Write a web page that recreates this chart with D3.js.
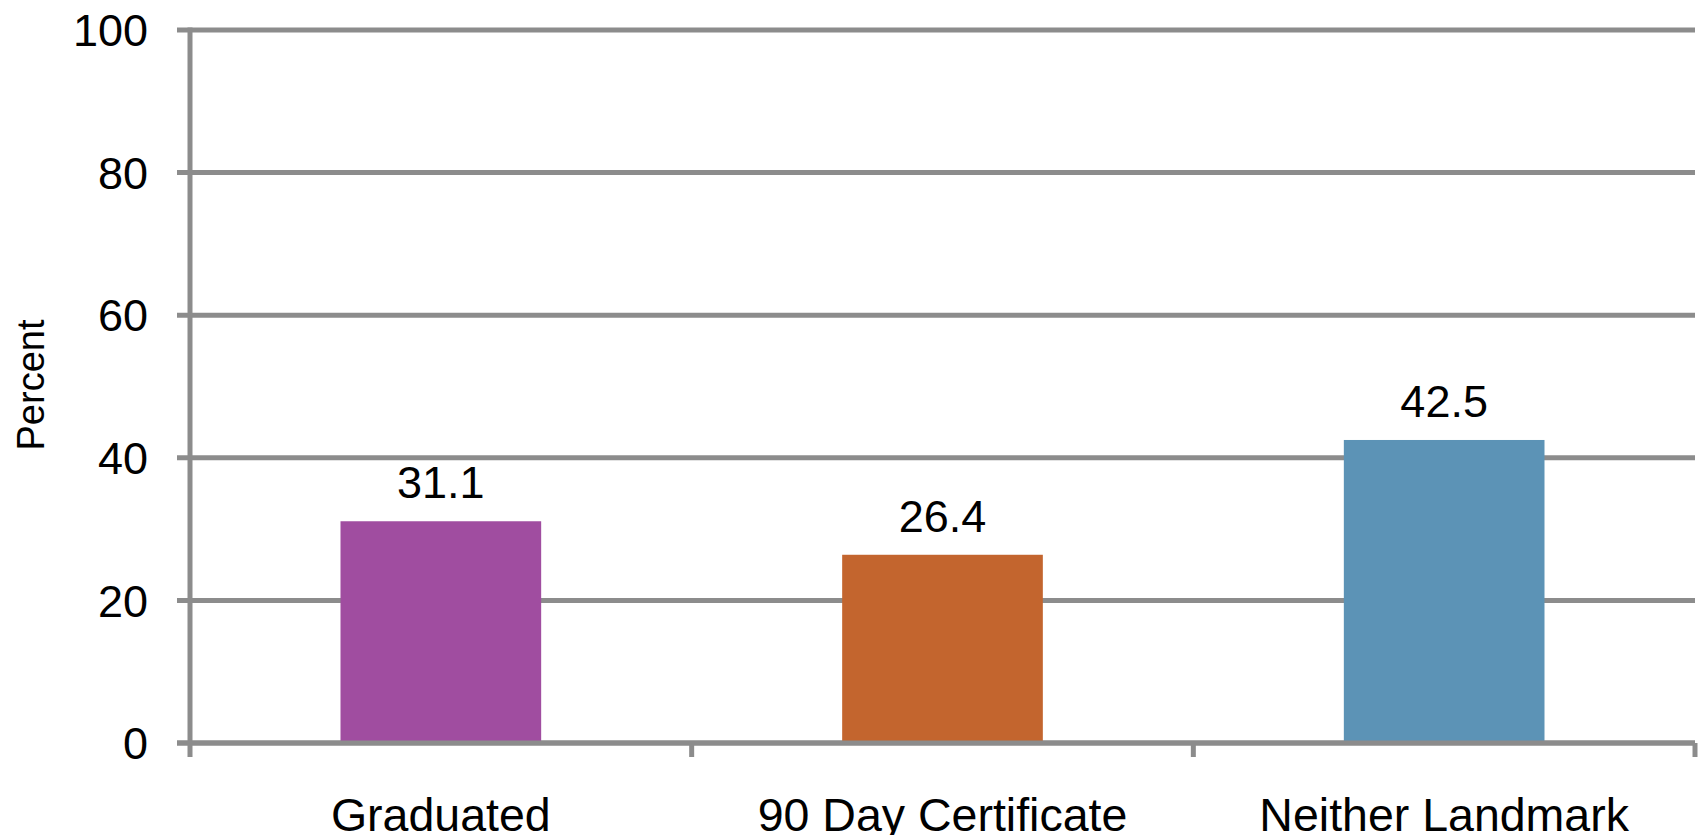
<!DOCTYPE html>
<html>
<head>
<meta charset="utf-8">
<script src="https://cdn.jsdelivr.net/npm/d3@7"></script>
<style>
  html, body { margin: 0; padding: 0; background: #fff; }
  svg { display: block; }
  text { font-family: "Liberation Sans", Arial, sans-serif; fill: #000; }
</style>
</head>
<body>
<svg id="chart" width="1702" height="835"></svg>
<script>
// Outcome categories and their share (percent)
const categories = ["Graduated", "90 Day Certificate", "Neither Landmark"];
const values = [31.1, 26.4, 42.5];
const barColors = ["#A04DA0", "#C3652E", "#5C93B6"];
const yTicks = [0, 20, 40, 60, 80, 100];
const yLabel = "Percent";

const svg = d3.select("#chart");
const plot = { left: 190, right: 1695, top: 30, bottom: 743 };
const gridColor = "#8C8C8C";
const lineW = 5;

const x = d3.scaleBand().domain(categories).range([plot.left, plot.right]).paddingInner(0).paddingOuter(0);
const y = d3.scaleLinear().domain([0, 100]).range([plot.bottom, plot.top]);
const barW = x.bandwidth() * 0.4;

// horizontal gridlines with short left ticks
svg.append("g").selectAll("line").data(yTicks).join("line")
  .attr("x1", plot.left - 13).attr("x2", plot.right)
  .attr("y1", d => y(d)).attr("y2", d => y(d))
  .attr("stroke", gridColor).attr("stroke-width", lineW);

// y-axis tick labels
svg.append("g").selectAll("text").data(yTicks).join("text")
  .attr("x", 148).attr("y", d => y(d)).attr("dy", "0.36em")
  .attr("text-anchor", "end").style("font-size", "45px")
  .text(d => d);

// bars
svg.append("g").selectAll("rect").data(categories).join("rect")
  .attr("x", d => x(d) + (x.bandwidth() - barW) / 2)
  .attr("width", barW)
  .attr("y", (d, i) => y(values[i]))
  .attr("height", (d, i) => y(0) - y(values[i]))
  .attr("fill", (d, i) => barColors[i]);

// baseline on top of the bars
svg.append("line")
  .attr("x1", plot.left - 13).attr("x2", plot.right)
  .attr("y1", y(0)).attr("y2", y(0))
  .attr("stroke", gridColor).attr("stroke-width", lineW);

// vertical axis
svg.append("line")
  .attr("x1", plot.left).attr("x2", plot.left)
  .attr("y1", y(100) - lineW / 2).attr("y2", y(0) + 14)
  .attr("stroke", gridColor).attr("stroke-width", lineW);

// category boundary ticks below the baseline
const bounds = categories.map(c => x(c)).concat([plot.right]).slice(1);
svg.append("g").selectAll("line").data(bounds).join("line")
  .attr("x1", d => d).attr("x2", d => d)
  .attr("y1", y(0)).attr("y2", y(0) + 14)
  .attr("stroke", gridColor).attr("stroke-width", lineW);

// value labels
svg.append("g").selectAll("text").data(categories).join("text")
  .attr("x", d => x(d) + x.bandwidth() / 2)
  .attr("y", (d, i) => y(values[i]) - 23)
  .attr("text-anchor", "middle").style("font-size", "45px")
  .text((d, i) => values[i].toFixed(1));

// category labels
svg.append("g").selectAll("text").data(categories).join("text")
  .attr("x", d => x(d) + x.bandwidth() / 2)
  .attr("y", 831)
  .attr("text-anchor", "middle").style("font-size", "46.5px")
  .text(d => d);

// y-axis title
svg.append("text")
  .attr("transform", "translate(44,385) rotate(-90)")
  .attr("text-anchor", "middle").style("font-size", "38px")
  .text(yLabel);
</script>
</body>
</html>
